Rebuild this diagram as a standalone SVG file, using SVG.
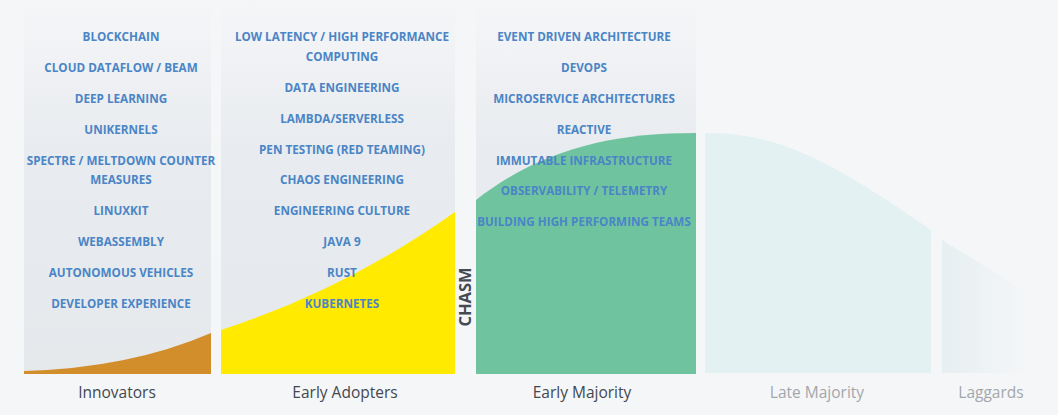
<svg xmlns="http://www.w3.org/2000/svg" width="1058" height="415" viewBox="0 0 1058 415">
  <defs>
    <linearGradient id="panelFade" x1="0" y1="0" x2="0" y2="374" gradientUnits="userSpaceOnUse">
      <stop offset="0" stop-color="#f5f6f8"/>
      <stop offset="0.4" stop-color="#e8ebef"/>
      <stop offset="1" stop-color="#e5e9ec"/>
    </linearGradient>
    <linearGradient id="laggardFade" x1="942" y1="0" x2="1030" y2="0" gradientUnits="userSpaceOnUse">
      <stop offset="0" stop-color="#e6eff1"/>
      <stop offset="1" stop-color="#f5f6f8"/>
    </linearGradient>
    <style>
      .item { font-family: "Open Sans", "Liberation Sans", sans-serif; font-weight: 700; font-size: 11.7px; fill: #4a85c6; text-anchor: middle; }
      .phase { font-family: "Open Sans", "Liberation Sans", sans-serif; font-size: 15.5px; fill: #43484e; text-anchor: middle; }
      .phase.faded { fill: #a3a7ab; }
      .panel { fill: url(#panelFade); }
    </style>
  </defs>

  <rect width="1058" height="415" fill="#f5f6f8"/>

  <!-- Innovators -->
  <g id="innovators">
    <rect class="panel" x="24" y="0" width="187" height="374"/>
    <path d="M24,374 L24,371 Q130,368 211,333 L211,374 Z" fill="#d38e2c"/>
    <text class="item" x="121" y="41">BLOCKCHAIN</text>
    <text class="item" x="121" y="72">CLOUD DATAFLOW / BEAM</text>
    <text class="item" x="121" y="103">DEEP LEARNING</text>
    <text class="item" x="121" y="134">UNIKERNELS</text>
    <text class="item" x="121" y="165">SPECTRE / MELTDOWN COUNTER</text>
    <text class="item" x="121" y="184">MEASURES</text>
    <text class="item" x="121" y="215">LINUXKIT</text>
    <text class="item" x="121" y="246">WEBASSEMBLY</text>
    <text class="item" x="121" y="277">AUTONOMOUS VEHICLES</text>
    <text class="item" x="121" y="308">DEVELOPER EXPERIENCE</text>
    <text class="phase" x="117" y="398">Innovators</text>
  </g>

  <!-- Early Adopters -->
  <g id="early-adopters">
    <rect class="panel" x="221" y="0" width="234" height="374"/>
    <path d="M221,374 L221,330 Q345,290 455,212 L455,374 Z" fill="#ffea00"/>
    <text class="item" x="342" y="41">LOW LATENCY / HIGH PERFORMANCE</text>
    <text class="item" x="342" y="61">COMPUTING</text>
    <text class="item" x="342" y="92">DATA ENGINEERING</text>
    <text class="item" x="342" y="123">LAMBDA/SERVERLESS</text>
    <text class="item" x="342" y="154">PEN TESTING (RED TEAMING)</text>
    <text class="item" x="342" y="184">CHAOS ENGINEERING</text>
    <text class="item" x="342" y="215">ENGINEERING CULTURE</text>
    <text class="item" x="342" y="246">JAVA 9</text>
    <text class="item" x="342" y="277">RUST</text>
    <text class="item" x="342" y="308">KUBERNETES</text>
    <text class="phase" x="345" y="398">Early Adopters</text>
  </g>

  <!-- Chasm -->
  <g id="chasm">
    <text x="471" y="297" transform="rotate(-90 471 297)" font-family="Open Sans, Liberation Sans, sans-serif" font-weight="700" font-size="16.5" fill="#454a50" text-anchor="middle">CHASM</text>
  </g>

  <!-- Early Majority -->
  <g id="early-majority">
    <rect class="panel" x="476" y="0" width="220" height="374"/>
    <path d="M476,374 L476,200 C540,150 610,133 696,133 L696,374 Z" fill="#6fc49f"/>
    <text class="item" x="584" y="41">EVENT DRIVEN ARCHITECTURE</text>
    <text class="item" x="584" y="72">DEVOPS</text>
    <text class="item" x="584" y="103">MICROSERVICE ARCHITECTURES</text>
    <text class="item" x="584" y="134">REACTIVE</text>
    <text class="item" x="584" y="165">IMMUTABLE INFRASTRUCTURE</text>
    <text class="item" x="584" y="195">OBSERVABILITY / TELEMETRY</text>
    <text class="item" x="584" y="226">BUILDING HIGH PERFORMING TEAMS</text>
    <text class="phase" x="582" y="398">Early Majority</text>
  </g>

  <!-- Late Majority -->
  <g id="late-majority">
    <path d="M705,373 L705,134 Q706,133 712,133 C790,134 850,175 931,230 L931,373 Z" fill="#e3f1f2"/>
    <text class="phase faded" x="817" y="398">Late Majority</text>
  </g>

  <!-- Laggards -->
  <g id="laggards">
    <path d="M942,373 L942,240 C975,260 1000,275 1030,295 L1030,373 Z" fill="url(#laggardFade)"/>
    <text class="phase faded" x="991" y="398">Laggards</text>
  </g>
</svg>
